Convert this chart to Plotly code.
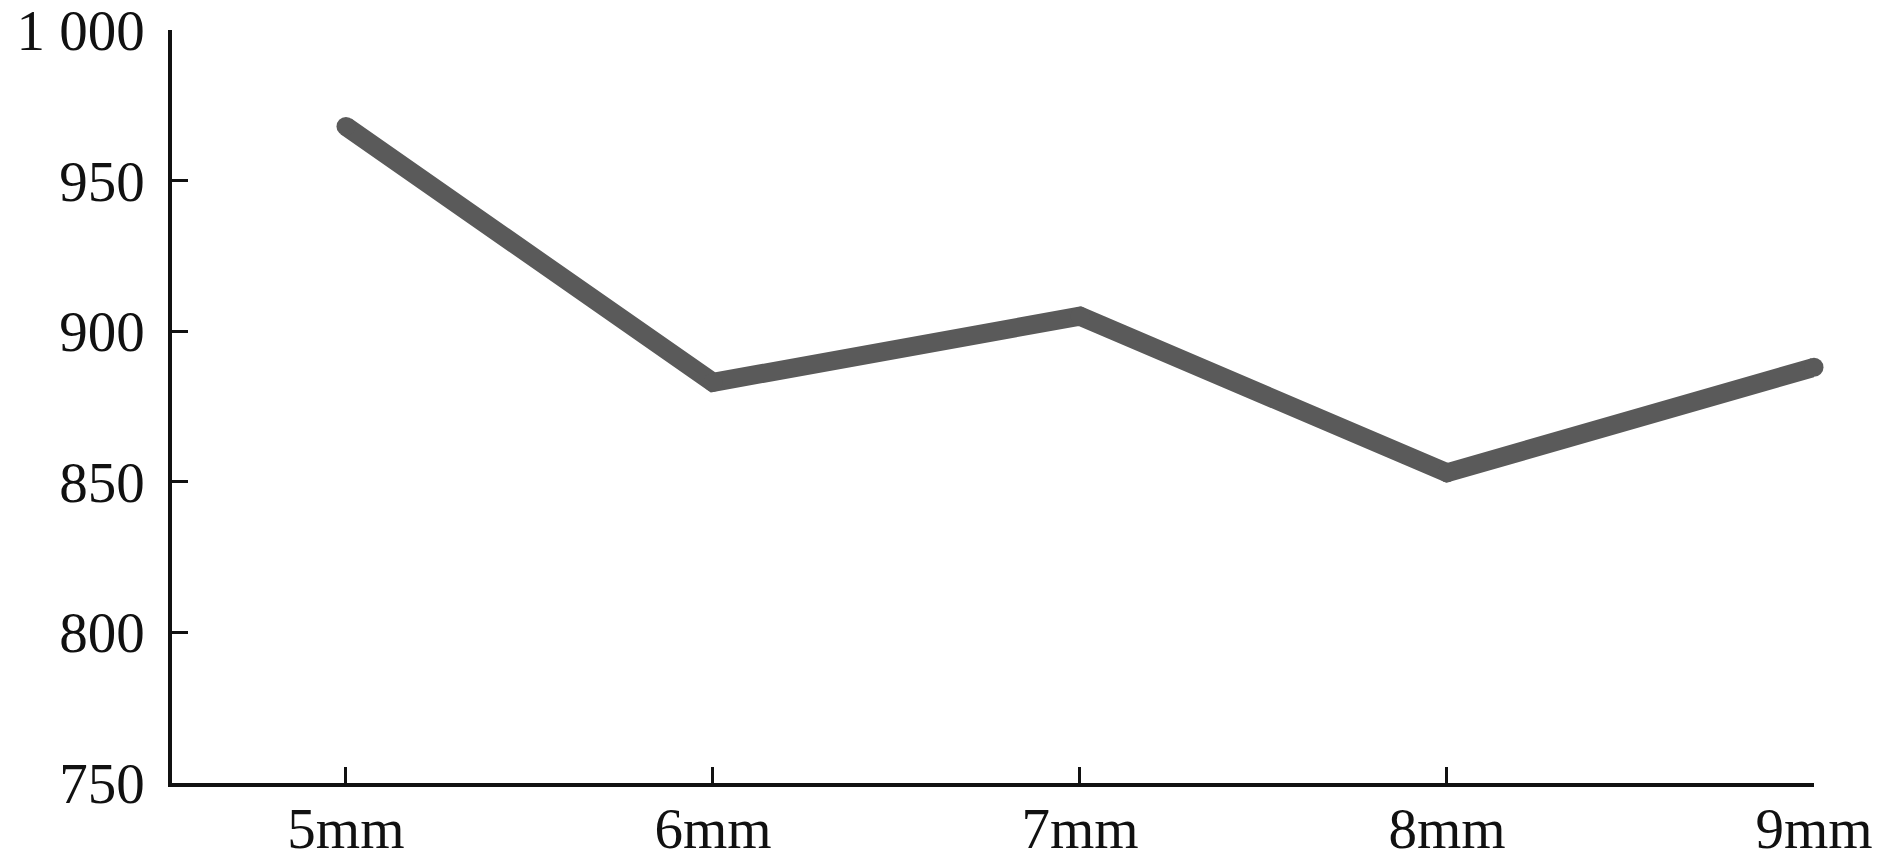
import plotly.graph_objects as go

categories = ["5mm", "6mm", "7mm", "8mm", "9mm"]
values = [968, 883, 905, 853, 888]
y_ticks = [750, 800, 850, 900, 950, 1000]
y_tick_text = ["750", "800", "850", "900", "950", "1 000"]

line_color = "#5a5a5a"

fig = go.Figure()
fig.add_trace(go.Scatter(
    x=list(range(len(categories))),
    y=values,
    mode="lines+markers",
    line=dict(color=line_color, width=19),
    marker=dict(color=line_color, size=19, line=dict(width=0)),
    cliponaxis=False,
    hoverinfo="y",
))

axis_font = dict(family="Liberation Serif, Times New Roman, serif", size=57, color="#111111")

fig.update_layout(
    width=1890,
    height=866,
    margin=dict(l=172, r=76, t=30, b=83),
    plot_bgcolor="white",
    paper_bgcolor="white",
    showlegend=False,
    xaxis=dict(
        range=[-0.474, 4],
        tickvals=list(range(len(categories))),
        ticktext=categories,
        showline=True, linecolor="#111111", linewidth=3.5,
        ticks="inside", ticklen=16, tickwidth=3, tickcolor="#111111",
        showgrid=False, zeroline=False, automargin=False,
        ticklabeloverflow="allow", ticklabelstandoff=-7,
        tickfont=axis_font,
    ),
    yaxis=dict(
        range=[750, 1000],
        tickvals=y_ticks,
        ticktext=y_tick_text,
        showline=True, linecolor="#111111", linewidth=3.5,
        ticks="inside", ticklen=16, tickwidth=3, tickcolor="#111111",
        showgrid=False, zeroline=False, automargin=False,
        ticklabeloverflow="allow", ticklabelstandoff=12,
        tickfont=axis_font,
    ),
)

# the browser's default body margin would shift the figure by 8px
fig.write_html(
    "out.html",
    config={"displayModeBar": False},
    post_script="document.body.style.margin='0';",
)
